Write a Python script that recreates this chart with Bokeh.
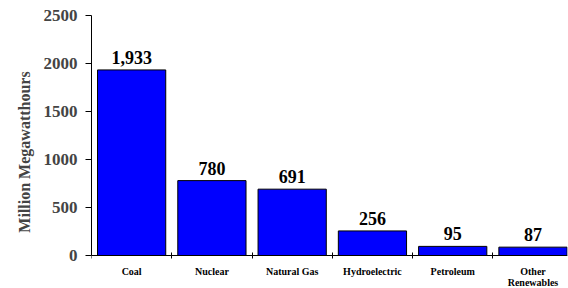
from bokeh.plotting import figure
from bokeh.models import ColumnDataSource, Range1d, FixedTicker, LinearAxis
from bokeh.embed import file_html
from bokeh.resources import INLINE
from bokeh.core.properties import value

categories = ["Coal", "Nuclear", "Natural Gas", "Hydroelectric", "Petroleum", "Other\nRenewables"]
values = [1933, 780, 691, 256, 95, 87]
value_labels = ["1,933", "780", "691", "256", "95", "87"]
y_ticks = [0, 500, 1000, 1500, 2000, 2500]

FONT = "Liberation Serif"
xs = [i + 0.5 for i in range(len(categories))]
src = ColumnDataSource(dict(x=xs, top=values, lab=value_labels, zero=[0] * len(xs), cat=categories))

# frame spans 15..288 px; 2500 units over 240 px -> 0 sits 33 px above the frame bottom
y_start = -33 * 2500 / 240
p = figure(width=568, height=288, output_backend="svg", toolbar_location=None,
           x_range=Range1d(0, 5.93), y_range=Range1d(y_start, 2500),
           min_border_left=91, min_border_right=1, min_border_top=15, min_border_bottom=0)
p.outline_line_color = None
p.xgrid.grid_line_color = None
p.ygrid.grid_line_color = None

p.vbar(x="x", top="top", width=0.85, source=src, fill_color="#0000FF", line_color="black", line_width=1)
p.text(x="x", y="top", text="lab", source=src, text_align="center", text_baseline="bottom",
       y_offset=-6, text_font=value(FONT), text_font_style="bold", text_font_size="18px", text_color="black")
p.text(x="x", y="zero", text="cat", source=src, text_align="center", text_baseline="top",
       y_offset=10, text_font=value(FONT), text_font_style="bold", text_font_size="10px",
       text_line_height=1.05, text_color="black")

xa = p.xaxis[0]
xa.fixed_location = 0
xa.ticker = FixedTicker(ticks=[], minor_ticks=list(range(len(categories) + 1)))
xa.major_label_text_font_size = "0px"
xa.major_tick_line_color = None
xa.major_tick_in = 0
xa.major_tick_out = 0
xa.minor_tick_in = 3
xa.minor_tick_out = 3
xa.minor_tick_line_color = "black"
xa.axis_line_color = "black"
xa.major_label_standoff = 0

ya = p.yaxis[0]
ya.bounds = (0, 2500)
ya.ticker = FixedTicker(ticks=y_ticks)
ya.minor_tick_line_color = None
ya.major_tick_in = 0
ya.major_tick_out = 6
ya.major_label_text_font = FONT
ya.major_label_text_font_style = "bold"
ya.major_label_text_font_size = "17px"
ya.major_label_standoff = 8

# separate, invisible axis that only carries the title (centred higher, as in the original)
title_axis = LinearAxis(bounds=(590, 2500), ticker=FixedTicker(ticks=[]),
                        axis_line_color=None, major_tick_line_color=None, minor_tick_line_color=None,
                        major_tick_in=0, major_tick_out=0, minor_tick_in=0, minor_tick_out=0,
                        major_label_text_font_size="0px", major_label_standoff=0,
                        axis_label="Million Megawatthours", axis_label_text_font=FONT,
                        axis_label_text_font_style="bold", axis_label_text_font_size="16px",
                        axis_label_standoff=8)
p.add_layout(title_axis, "left")

open("out.html", "w").write(file_html(p, INLINE))
